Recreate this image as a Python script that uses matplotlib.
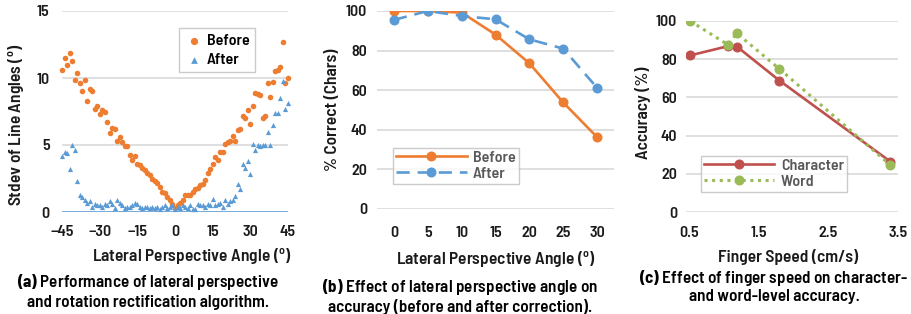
import numpy as np
import matplotlib
matplotlib.use("Agg")
import matplotlib.pyplot as plt

FONT = 'Barlow Semi Condensed'
plt.rcParams['font.family'] = [FONT, 'DejaVu Sans']
plt.rcParams['font.weight'] = 'semibold'
plt.rcParams['mathtext.fontset'] = 'custom'
plt.rcParams['mathtext.rm'] = FONT + ':semibold'
plt.rcParams['mathtext.bf'] = FONT + ':bold'

# (a) stdev of line angles vs lateral angle
angles = list(range(-45, 46))
stdev_before = [10.6, 11.5, 11.0, 11.9, 11.3, 9.85, 10.4, 9.6, 9.0, 9.85,
                8.3, 9.2, 9.0, 7.7, 7.9, 7.3, 7.6, 7.5, 6.7, 5.9,
                6.3, 6.2, 5.3, 5.6, 5.2, 4.9, 4.9, 4.25, 3.9, 4.2,
                3.6, 3.5, 3.3, 3.1, 2.9, 2.75, 2.5, 2.3, 2.2, 1.9,
                1.5, 1.4, 1.1, 0.9, 0.6,
                0.3, 0.5, 0.7, 0.9, 1.3, 1.3, 1.3, 1.5, 1.7, 1.8,
                2.0, 2.1, 2.4, 2.9, 3.2, 3.6, 4.1, 3.9, 4.5, 4.5,
                5.1, 5.2, 5.3, 5.7, 5.3, 6.1, 6.2, 7.2, 7.0, 7.6,
                6.55, 7.9, 8.9, 8.8, 8.7, 7.05, 7.15, 9.6, 8.6, 9.7,
                10.5, 10.6, 10.8, 12.7, 9.6, 10.0]
stdev_after = [4.2, 4.5, 4.4, 3.2, 5.0, 4.6, 2.3, 1.3, 1.1, 0.9,
               0.7, 0.8, 0.4, 0.6, 0.5, 0.5, 0.4, 0.6, 0.5, 0.8,
               0.6, 0.3, 0.9, 0.7, 0.5, 0.3, 0.4, 0.4, 0.5, 0.7,
               0.6, 0.4, 0.3, 0.4, 0.4, 0.3, 0.4, 0.3, 0.4, 0.2,
               0.4, 0.5, 0.3, 0.4, 0.5,
               0.2, 0.4, 0.3, 0.5, 0.4, 0.3, 0.5, 0.2, 0.2, 0.6,
               0.5, 0.5, 0.4, 0.6, 0.5, 1.0, 0.5, 0.6, 0.7, 0.4,
               0.9, 0.6, 0.8, 0.9, 1.2, 2.1, 1.7, 3.6, 3.3, 3.8,
               2.8, 5.1, 4.6, 5.0, 4.9, 5.0, 5.0, 6.0, 5.0, 6.5,
               7.4, 7.4, 8.5, 9.8, 7.7, 8.1]

# (b) % correct vs lateral angle
angle_b = [0, 5, 10, 15, 20, 25, 30]
correct_before = [100, 100, 99.2, 88.1, 73.6, 53.8, 36.3]
correct_after = [95.5, 100, 97.5, 95.8, 85.7, 81.0, 61.2]

# (c) accuracy vs finger speed
speed = [0.52, 1.06, 1.19, 1.80, 3.39]
acc_char = [82.0, 86.8, 86.6, 68.8, 26.4]
acc_word = [100, 87.6, 93.5, 74.9, 24.6]

orange = '#ED7D31'
blue = '#5B9BD5'
red = '#C0504D'
green = '#9BBB59'
grid = '#D9D9D9'
txt = '#1a1a1a'
TICK = 11.5
LAB = 12.5

W, H = 911, 314
fig = plt.figure(figsize=(W / 100, H / 100), dpi=100)

def px_axes(l, r, t, b):
    return fig.add_axes([l / W, 1 - b / H, (r - l) / W, (b - t) / H])

def style(ax, xpad, ypad):
    for s in ax.spines.values():
        s.set_visible(False)
    ax.grid(axis='y', color=grid, lw=1.2)
    ax.set_axisbelow(True)
    ax.tick_params(length=0, labelsize=TICK, colors=txt)
    ax.tick_params(axis='x', pad=xpad)
    ax.tick_params(axis='y', pad=ypad)

def labels(ax, xl, yl, xpos, ypos):
    ax.set_xlabel(xl, fontsize=LAB, color=txt, va='center', fontweight='semibold')
    ax.set_ylabel(yl, fontsize=LAB, color=txt, va='center', fontweight='semibold')
    ax.xaxis.set_label_coords(*xpos)
    ax.yaxis.set_label_coords(*ypos)
    plt.setp(ax.get_xticklabels() + ax.get_yticklabels(), fontweight='semibold')

def legend(ax, anchor, loc, **kw):
    leg = ax.legend(loc=loc, bbox_to_anchor=anchor, fontsize=TICK, frameon=True,
                    fancybox=False, edgecolor='#BFBFBF', **kw)
    leg.get_frame().set_linewidth(1.0)
    return leg

# panel a
ax1 = px_axes(62, 288, 11, 212)
style(ax1, 9, 9)
ax1.axhline(0, color=blue, lw=1.8, zorder=1)
ax1.scatter(angles, stdev_before, s=16, color=orange, marker='o', lw=0,
            label='Before', zorder=3, clip_on=False)
ax1.scatter(angles, stdev_after, s=14, color=blue, marker='^', lw=0,
            label='After', zorder=3, clip_on=False)
ax1.set_xlim(-45, 45)
ax1.set_ylim(0, 15)
ax1.set_xticks([-45, -30, -15, 0, 15, 30, 45])
ax1.set_yticks([0, 5, 10, 15])
labels(ax1, r'Lateral Perspective Angle ($^{\mathrm{o}}$)',
       r'Stdev of Line Angles ($^{\mathrm{o}}$)', (0.575, -0.224), (-0.2, 0.433))
legend(ax1, (0.889, 0.955), 'upper right', handletextpad=0.2, borderpad=0.35,
       labelspacing=0.3, handlelength=1.2, markerscale=1.3)

# panel b
ax2 = px_axes(377, 614, 11, 209)
style(ax2, 12, 7)
ax2.plot(angle_b, correct_before, color=orange, lw=1.9, marker='o', ms=6.2, label='Before', zorder=3)
ax2.plot(angle_b, correct_after, color=blue, lw=1.9, ls=(0, (5, 3)), marker='o', ms=6.2,
         label='After', zorder=3)
ax2.set_xlim(-2.5, 32.5)
ax2.set_ylim(0, 100)
ax2.set_xticks(angle_b)
ax2.set_yticks(range(0, 101, 20))
labels(ax2, r'Lateral Perspective Angle ($^{\mathrm{o}}$)', '% Correct (Chars)',
       (0.5, -0.258), (-0.186, 0.5))
legend(ax2, (0.034, 0.086), 'lower left', labelcolor='#595959', handlelength=4.4,
       handletextpad=0.4, borderpad=0.2, labelspacing=0.1)

# panel c
ax3 = px_axes(686, 898, 21, 212)
style(ax3, 10, 6.5)
ax3.plot(speed, acc_char, color=red, lw=1.9, marker='o', ms=6.2, label='Character', zorder=3)
ax3.plot(speed, acc_word, color=green, lw=2.2, ls=(0, (1, 1.5)), marker='o', ms=6.2,
         label='Word', zorder=4)
ax3.set_xlim(0.46, 3.5)
ax3.set_ylim(0, 100)
ax3.set_xticks([0.5, 1.5, 2.5, 3.5])
ax3.set_xticklabels(['0.5', '1.5', '2.5', '3.5'])
ax3.set_yticks(range(0, 101, 20))
labels(ax3, 'Finger Speed (cm/s)', 'Accuracy (%)', (0.48, -0.236), (-0.203, 0.518))
legend(ax3, (0.033, 0.063), 'lower left', labelcolor='#595959', handlelength=4.4,
       handletextpad=0.4, borderpad=0.2, labelspacing=0.1)

# captions: x centre, y of line 1, y of line 2 (pixels)
caps = [
    (148, 282, 303, r'$\mathbf{(a)}$ Performance of lateral perspective',
     'and rotation rectification algorithm.'),
    (460, 287, 307, r'$\mathbf{(b)}$ Effect of lateral perspective angle on',
     'accuracy (before and after correction).'),
    (774, 278, 297, r'$\mathbf{(c)}$ Effect of finger speed on character-',
     'and word-level accuracy.'),
]
for cx, y1, y2, l1, l2 in caps:
    fig.text(cx / W, 1 - y1 / H, l1, ha='center', va='center', fontsize=12.3,
             color='black', fontweight='semibold')
    fig.text(cx / W, 1 - y2 / H, l2, ha='center', va='center', fontsize=12.3,
             color='black', fontweight='semibold')

fig.savefig('out.png', dpi=100)
